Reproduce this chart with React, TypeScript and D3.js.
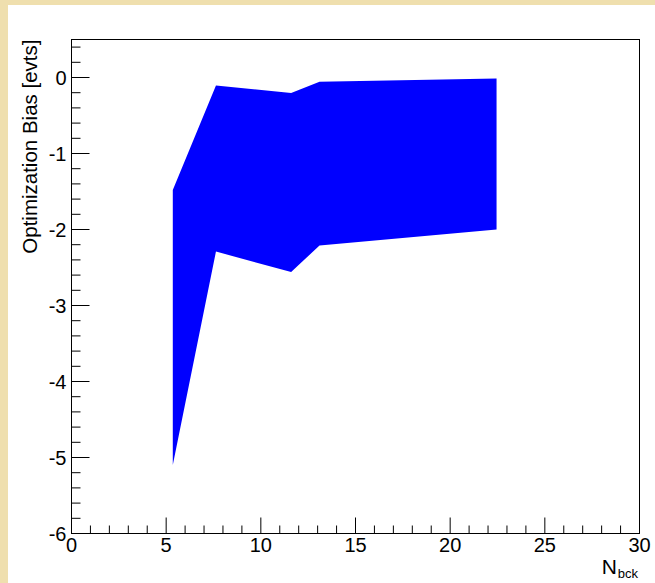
import React from "react";
import * as d3 from "d3";

const W = 655;
const H = 583;

// Band data (N_bck vs optimization bias range)
const nbck = [5.35, 7.63, 11.6, 13.1, 22.45];
const upperBias = [-1.48, -0.105, -0.205, -0.057, -0.013];
const lowerBias = [-5.1, -2.29, -2.56, -2.21, -2.0];

const xMajorTicks = [0, 5, 10, 15, 20, 25, 30];
const yMajorTicks = [0, -1, -2, -3, -4, -5, -6];

const xTitle = "N";
const xTitleSub = "bck";
const yTitle = "Optimization Bias [evts]";

const FONT = "'Liberation Sans', Arial, Helvetica, sans-serif";

export default function App() {
  const left = 71.5, right = 639.5, top = 39.5, bottom = 533.5;
  const x = d3.scaleLinear().domain([0, 30]).range([left, right]);
  const y = d3.scaleLinear().domain([-6, 0.5]).range([bottom, top]);

  const pts: [number, number][] = [];
  nbck.forEach((v, i) => pts.push([x(v), y(upperBias[i])]));
  for (let i = nbck.length - 1; i >= 0; i--) pts.push([x(nbck[i]), y(lowerBias[i])]);
  const poly = d3.line()(pts) + "Z";

  const xMinor = d3.range(0, 30.001, 1).filter((v) => v % 5 !== 0);
  const yMinor = d3.range(-6, 0.5001, 0.2).map((v) => Math.round(v * 10) / 10).filter((v) => Math.abs(v - Math.round(v)) > 1e-6);

  return (
    <svg
      width={W}
      height={H}
      style={{ position: "absolute", left: 0, top: 0, display: "block" }}
      fontFamily={FONT}
    >
      <rect x={0} y={0} width={W} height={H} fill="#efdfae" />
      <rect x={8} y={5} width={W - 8} height={H - 5} fill="#ffffff" />

      <path d={poly} fill="#0000ff" stroke="none" />

      <rect x={left} y={top} width={right - left} height={bottom - top} fill="none" stroke="#000" strokeWidth={1} />

      {xMajorTicks.map((v) => (
        <g key={"xm" + v}>
          <line x1={x(v)} x2={x(v)} y1={bottom} y2={bottom - 16} stroke="#000" />
          <text x={x(v)} y={551.5} textAnchor="middle" fontSize={20} fill="#000">
            {v}
          </text>
        </g>
      ))}
      {xMinor.map((v) => (
        <line key={"xn" + v} x1={x(v)} x2={x(v)} y1={bottom} y2={bottom - 8} stroke="#000" />
      ))}

      {yMajorTicks.map((v) => (
        <g key={"ym" + v}>
          <line x1={left} x2={left + 18} y1={y(v)} y2={y(v)} stroke="#000" />
          <text x={66.5} y={y(v)} dy="0.36em" textAnchor="end" fontSize={20} fill="#000">
            {v}
          </text>
        </g>
      ))}
      {yMinor.map((v) => (
        <line key={"yn" + v} x1={left} x2={left + 9} y1={y(v)} y2={y(v)} stroke="#000" />
      ))}

      <text
        transform={`translate(37,${top}) rotate(-90)`}
        textAnchor="end"
        fontSize={20.5}
        fill="#000"
      >
        {yTitle}
      </text>

      <text x={617} y={573.5} textAnchor="end" fontSize={21} fill="#000">
        {xTitle}
      </text>
      <text x={638} y={577.5} textAnchor="end" fontSize={13} fill="#000">
        {xTitleSub}
      </text>
    </svg>
  );
}
